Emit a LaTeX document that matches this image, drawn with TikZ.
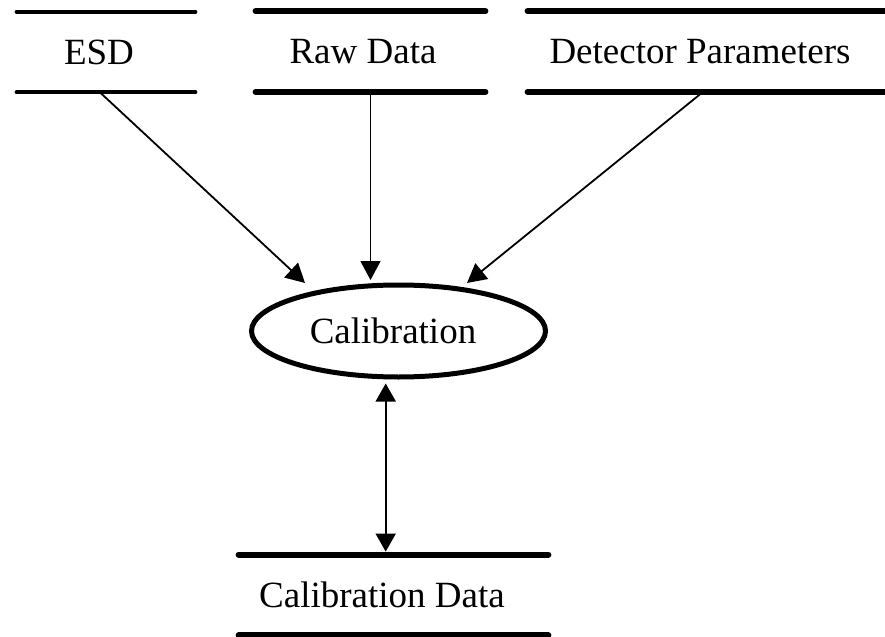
\documentclass[tikz,border=0pt]{standalone}
\usepackage{fontspec}
\setmainfont{Liberation Serif}
\usetikzlibrary{arrows.meta,shapes.geometric}

\tikzset{
  store/.style={rectangle, draw=none, inner sep=0pt, minimum height=40pt},
  storeline/.style={line width=3pt, line cap=round},
  process/.style={ellipse, draw, line width=2.5pt, inner sep=0pt,
                  minimum width=147pt, minimum height=46pt},
  lbl/.style={font=\fontsize{18.5pt}{22pt}\selectfont, inner sep=0pt},
  flow/.style={line width=0.9pt, -{Triangle[length=9.5pt,width=10pt]}},
  dflow/.style={line width=0.9pt, {Triangle[length=9pt,width=10pt]}-{Triangle[length=9pt,width=10pt]}}
}

\begin{document}
\begin{tikzpicture}[x=0.5pt, y=-0.5pt]
  \useasboundingbox (0,0) rectangle (885,637);

  % data stores
  \node[store, minimum width=89pt,  label={[lbl, xshift=-3.5pt]center:ESD}] (esd) at (106,52) {};
  \node[store, minimum width=114.5pt, label={[lbl, xshift=-3.75pt]center:Raw Data}] (raw) at (370.5,51.5) {};
  \node[store, minimum width=180pt, label={[lbl, xshift=-4pt]center:Detector Parameters}] (det) at (708,51.5) {};
  \node[store, minimum width=154.5pt, label={[lbl, xshift=-5.75pt]center:Calibration Data}] (cdata) at (393.5,595) {};

  \draw[storeline, line width=2pt] (esd.north west) -- (esd.north east)
                                   (esd.south west) -- (esd.south east);
  \draw[storeline] (raw.north west) -- (raw.north east)
                   (raw.south west) -- (raw.south east);
  \draw[storeline] (det.north west) -- (det.north east)
                   (det.south west) -- (det.south east);
  \draw[storeline] (cdata.north west) -- (cdata.north east)
                   (cdata.south west) -- (cdata.south east);

  % process
  \node[process, label={[lbl, xshift=-2.75pt]center:Calibration}] (cal) at (398.5,331) {};

  % flows into the process
  \coordinate (inesd) at ([shift={(-93.5,-48)}]cal.center);
  \coordinate (inraw) at ([yshift=1.25pt]raw.south |- cal.north);
  \coordinate (indet) at ([shift={(68.5,-48)}]cal.center);
  \draw[flow] ([xshift=-3pt]esd.south) -- (inesd);
  \draw[flow] (raw.south) -- (inraw);
  \draw[flow] ([xshift=-2.5pt]det.south) -- (indet);

  % exchange with the calibration store
  \coordinate (calout) at ([shift={(-12.8,4)}]cal.south);
  \draw[dflow] (calout) -- ([yshift=1.5pt]calout |- cdata.north);
\end{tikzpicture}
\end{document}
